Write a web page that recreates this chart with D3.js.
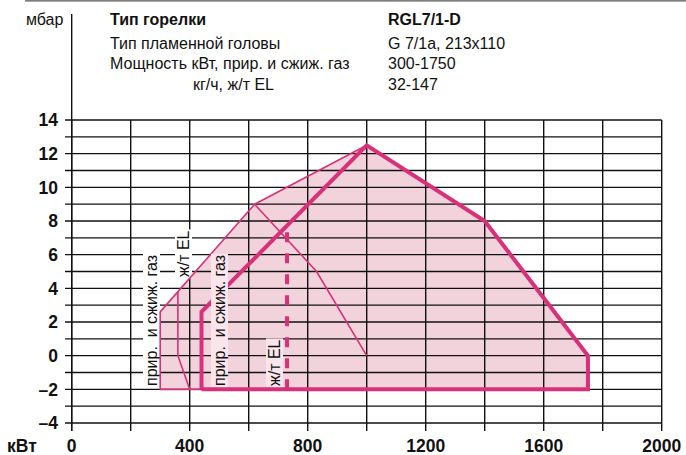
<!DOCTYPE html>
<html><head><meta charset="utf-8">
<script src="https://cdn.jsdelivr.net/npm/d3@7"></script>
<style>
html,body{margin:0;padding:0;background:#fff;}
svg{display:block;font-family:"Liberation Sans",Arial,sans-serif;}
</style></head>
<body>
<svg id="c" width="686" height="455"></svg>
<script>
// ---- data ----
const xTickValues = [0, 200, 400, 600, 800, 1000, 1200, 1400, 1600, 1800, 2000];
const xTickLabels = [0, 400, 800, 1200, 1600, 2000];
const yGridValues = [-4,-3,-2,-1,0,1,2,3,4,5,6,7,8,9,10,11,12,13,14];
const yTickLabels = [14, 12, 10, 8, 6, 4, 2, 0, -2, -4];

// envelope (filled area)
const envelopeKw   = [300, 300, 620, 1000, 1400, 1750, 1750, 300];
const envelopeMbar = [-2, 2.6, 9, 12.5, 8, 0, -2, -2];
// thin outline, left part (gas)
const thinGasKw   = [440, 300, 300, 620, 1000];
const thinGasMbar = [-2, -2, 2.6, 9, 12.5];
// thick outline (main range)
const thickKw   = [440, 440, 1000, 1400, 1750, 1750, 440];
const thickMbar = [-2, 2.6, 12.5, 8, 0, -2, -2];
// thin oil EL line
const oilThinKw   = [360, 360, 400];
const oilThinMbar = [3.8, 0, -2];
// thin inner line
const innerKw   = [620, 830, 1000];
const innerMbar = [9, 5, 0];
// dashed oil EL line
const dashKw   = [730, 730];
const dashMbar = [-2, 7.5];

const headerLeft  = ["Тип горелки", "Тип пламенной головы", "Мощность кВт, прир. и сжиж. газ", "кг/ч, ж/т EL"];
const headerRight = ["RGL7/1-D", "G 7/1a, 213x110", "300-1750", "32-147"];

// ---- drawing ----
const svg = d3.select("#c");
const x = d3.scaleLinear().domain([0, 2000]).range([71.7, 661.7]);
const y = d3.scaleLinear().domain([-4, 14]).range([423, 120]);
const pink = "#d9307a", fill = "#f2d3dc";

const pts = (kw, mb) => kw.map((k, i) => [x(k), y(mb[i])]);
const line = d3.line();

// top rule
svg.append("line").attr("x1", 25).attr("x2", 686).attr("y1", 0.8).attr("y2", 0.8)
  .attr("stroke", "#555").attr("stroke-width", 1.2);

// fill
svg.append("path").attr("d", line(pts(envelopeKw, envelopeMbar)) + "Z")
  .attr("fill", fill).attr("stroke", "none");

// grid
const g = svg.append("g").attr("stroke", "#111").attr("stroke-width", 1.4);
yGridValues.forEach(v => {
  g.append("line").attr("x1", 65).attr("x2", x(2000)).attr("y1", y(v)).attr("y2", y(v));
});
xTickValues.forEach(v => {
  g.append("line").attr("x1", x(v)).attr("x2", x(v)).attr("y1", y(14)).attr("y2", y(-4) + 8);
});
// y axis extension into header
g.append("line").attr("x1", x(0)).attr("x2", x(0)).attr("y1", 14).attr("y2", y(-4) + 8);

// labels inside chart
function rotLabel(txt, bx, by, bg, fs) {
  const gg = svg.append("g").attr("transform", `translate(${bx},${by}) rotate(-90)`);
  const r = gg.append("rect").attr("fill", bg);
  const t = gg.append("text").attr("x", 0).attr("y", 0)
    .attr("font-size", fs).attr("fill", "#111").style("white-space", "pre").text(txt);
  const bb = t.node().getBBox();
  r.attr("x", bb.x - 1).attr("y", bb.y).attr("width", bb.width + 2).attr("height", bb.height);
}
rotLabel("прир.  и сжиж. газ", 157, 386, "#fff", 16);
rotLabel("ж/т EL", 189, 277, "#fff", 16);

// lines
svg.append("path").attr("d", line(pts(thinGasKw, thinGasMbar)))
  .attr("fill", "none").attr("stroke", pink).attr("stroke-width", 1.6).attr("stroke-linejoin", "round");
svg.append("path").attr("d", line(pts(oilThinKw, oilThinMbar)))
  .attr("fill", "none").attr("stroke", pink).attr("stroke-width", 1.6);
svg.append("path").attr("d", line(pts(innerKw, innerMbar)))
  .attr("fill", "none").attr("stroke", pink).attr("stroke-width", 1.6);
svg.append("path").attr("d", line(pts(thickKw, thickMbar)))
  .attr("fill", "none").attr("stroke", pink).attr("stroke-width", 4).attr("stroke-linejoin", "miter");
svg.append("path").attr("d", line(pts(dashKw, dashMbar)))
  .attr("fill", "none").attr("stroke", pink).attr("stroke-width", 4).attr("stroke-dasharray", "10,11");

rotLabel("прир.  и сжиж. газ", 225, 386, "#fbe5ec", 16);
rotLabel("ж/т EL", 280, 386, "#fbe5ec", 16);

// tick labels
const tl = svg.append("g").attr("font-weight", "bold").attr("font-size", 17.5).attr("fill", "#111");
yTickLabels.forEach(v => {
  tl.append("text").attr("x", 58).attr("y", y(v)).attr("dy", "0.36em").attr("text-anchor", "end")
    .text(v < 0 ? "–" + Math.abs(v) : v);
});
xTickLabels.forEach(v => {
  tl.append("text").attr("x", x(v)).attr("y", 452).attr("text-anchor", "middle").text(v);
});
tl.append("text").attr("x", 7).attr("y", 452).text("кВт");

// header
svg.append("text").attr("x", 26).attr("y", 25).attr("font-size", 16).attr("fill", "#111").text("мбар");
const hx = [110, 110, 110, 193], hy = [25, 49, 69, 90];
headerLeft.forEach((t, i) => {
  svg.append("text").attr("x", hx[i]).attr("y", hy[i]).attr("font-size", 16)
    .attr("font-weight", i === 0 ? "bold" : "normal").attr("fill", "#111").text(t);
});
headerRight.forEach((t, i) => {
  svg.append("text").attr("x", 388).attr("y", hy[i]).attr("font-size", 16)
    .attr("font-weight", i === 0 ? "bold" : "normal").attr("fill", "#111").text(t);
});
</script>
</body></html>
